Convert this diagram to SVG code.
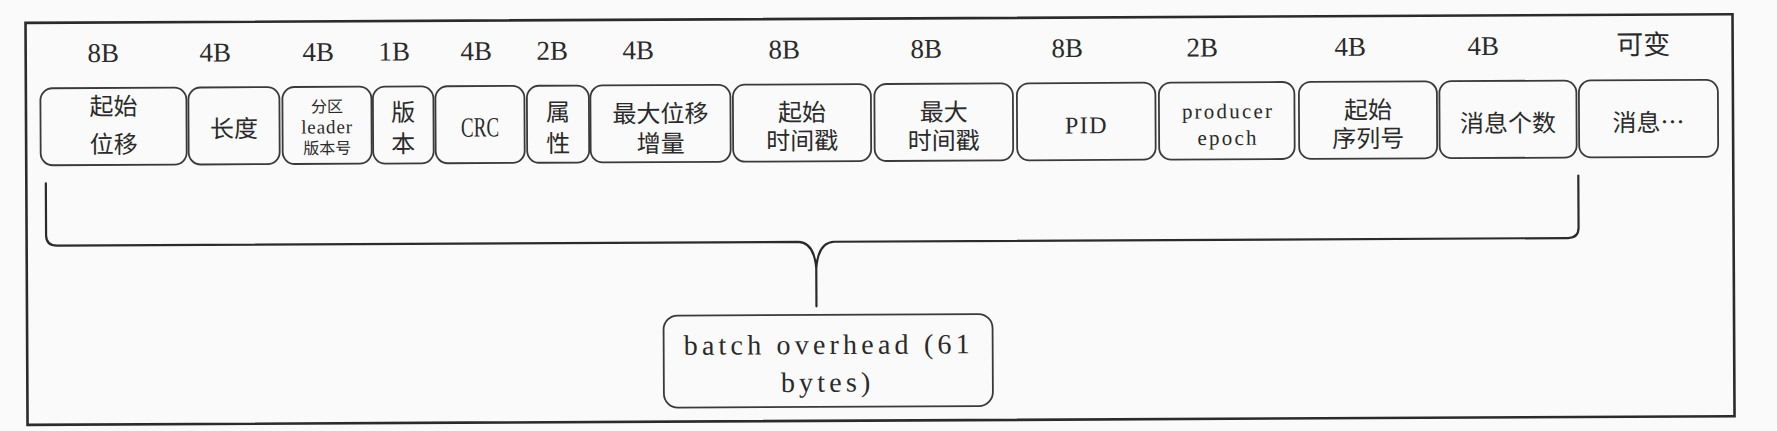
<svg xmlns="http://www.w3.org/2000/svg" width="1777" height="431" viewBox="0 0 1777 431">
<style>
.frame{fill:none;stroke:#2b2b2b;stroke-width:2.6}
.box{fill:none;stroke:#3a3a3a;stroke-width:1.8}
.brace{fill:none;stroke:#2b2b2b;stroke-width:2.2;stroke-linejoin:round;stroke-linecap:round}
.lbl{font-family:"Liberation Serif","Noto Sans CJK SC",serif;font-size:27px;fill:#2a2a2a;text-anchor:middle}
.cjk{font-family:"Noto Sans CJK SC",sans-serif;font-size:24px;fill:#2a2a2a;text-anchor:middle}
.cjks{font-family:"Noto Sans CJK SC",sans-serif;font-size:16px;fill:#2a2a2a}
.lat{font-family:"Liberation Serif",serif;fill:#2a2a2a;text-anchor:middle}
.big{font-family:"Liberation Serif",serif;font-size:28px;fill:#2a2a2a;letter-spacing:4.2px}
</style>
<rect width="1777" height="431" fill="#fafafa"/>
<g transform="rotate(-0.29 888 215)">
<rect class="frame" x="26.5" y="18.5" width="1707" height="402"/>
<g id="sizes">
<text class="lbl" x="104" y="58">8B</text>
<text class="lbl" x="216" y="58">4B</text>
<text class="lbl" x="319" y="58">4B</text>
<text class="lbl" x="395" y="58">1B</text>
<text class="lbl" x="477" y="58">4B</text>
<text class="lbl" x="553" y="58">2B</text>
<text class="lbl" x="639" y="58">4B</text>
<text class="lbl" x="785" y="58">8B</text>
<text class="lbl" x="927" y="58">8B</text>
<text class="lbl" x="1068" y="58">8B</text>
<text class="lbl" x="1203" y="58">2B</text>
<text class="lbl" x="1351" y="58">4B</text>
<text class="lbl" x="1484" y="58">4B</text>
<text class="cjk" x="1644" y="58" style="font-size:27px">可变</text>
</g>
<g id="n1"><rect class="box" x="41" y="84" width="146" height="77" rx="12"/><text class="cjk" x="114" y="111">起始<tspan x="114" dy="38">位移</tspan></text></g>
<g id="n2"><rect class="box" x="189" y="84" width="91" height="77" rx="12"/><text class="cjk" x="234.5" y="134">长度</text></g>
<g id="n3"><rect class="box" x="283" y="84" width="89" height="77" rx="12"/><text class="cjks" text-anchor="middle" x="327.5" y="109.5">分区<tspan x="327.5" dy="21" style="font-family:'Liberation Serif',serif;font-size:19px;letter-spacing:0.9px">leader</tspan><tspan x="327.5" dy="20.5">版本号</tspan></text></g>
<g id="n4"><rect class="box" x="373.5" y="84" width="60.5" height="77" rx="12"/><text class="cjk" x="403.7" y="118.5">版<tspan x="403.7" dy="31.5">本</tspan></text></g>
<g id="n5"><rect class="box" x="436" y="84" width="89" height="77" rx="12"/><text class="lat" x="480.5" y="134.5" style="font-size:28px" textLength="38" lengthAdjust="spacingAndGlyphs">CRC</text></g>
<g id="n6"><rect class="box" x="527.5" y="84" width="62" height="77" rx="12"/><text class="cjk" x="558.5" y="119">属<tspan x="558.5" dy="31.5">性</tspan></text></g>
<g id="n7"><rect class="box" x="591" y="84" width="140" height="77" rx="12"/><text class="cjk" x="661" y="121">最大位移<tspan x="661" dy="30">增量</tspan></text></g>
<g id="n8"><rect class="box" x="733.5" y="84" width="138" height="77" rx="12"/><text class="cjk" x="802.5" y="120.5">起始<tspan x="802.5" dy="28.5">时间戳</tspan></text></g>
<g id="n9"><rect class="box" x="875" y="84" width="138.5" height="77" rx="12"/><text class="cjk" x="944.2" y="121">最大<tspan x="944.2" dy="28.5">时间戳</tspan></text></g>
<g id="n10"><rect class="box" x="1017.5" y="84" width="138.5" height="77" rx="12"/><text class="lat" x="1087" y="134.3" style="font-size:24px;letter-spacing:1.5px">PID</text></g>
<g id="n11"><rect class="box" x="1159.5" y="84" width="135.5" height="77" rx="12"/><text class="lat" x="1228.5" y="120" style="font-size:21px;letter-spacing:2.2px">producer<tspan x="1228.5" dy="26.7">epoch</tspan></text></g>
<g id="n12"><rect class="box" x="1299.5" y="84" width="138" height="77" rx="12"/><text class="cjk" x="1368.5" y="121">起始<tspan x="1368.5" dy="28.5">序列号</tspan></text></g>
<g id="n13"><rect class="box" x="1440" y="84" width="137" height="77" rx="12"/><text class="cjk" x="1508.5" y="135">消息个数</text></g>
<g id="n14"><rect class="box" x="1579.5" y="84" width="139" height="77" rx="12"/><text class="cjk" x="1649" y="135">消息…</text></g>
<g id="connectors">
<path class="brace" d="M46,179 L46,231 Q46,241.5 57,241.5 L798,241.5 Q814,242 816,268 L816,306 M816,268 Q818,242 834,241.5 L1568,241.5 Q1578.5,241.5 1578.5,231 L1578.5,179"/>
</g>
<g id="batch">
<rect class="box" x="663" y="314.5" width="329" height="92" rx="14"/>
<text class="big" x="683" y="353.7">batch overhead (61<tspan x="780" dy="37.7">bytes)</tspan></text>
</g>
</g>
</svg>
